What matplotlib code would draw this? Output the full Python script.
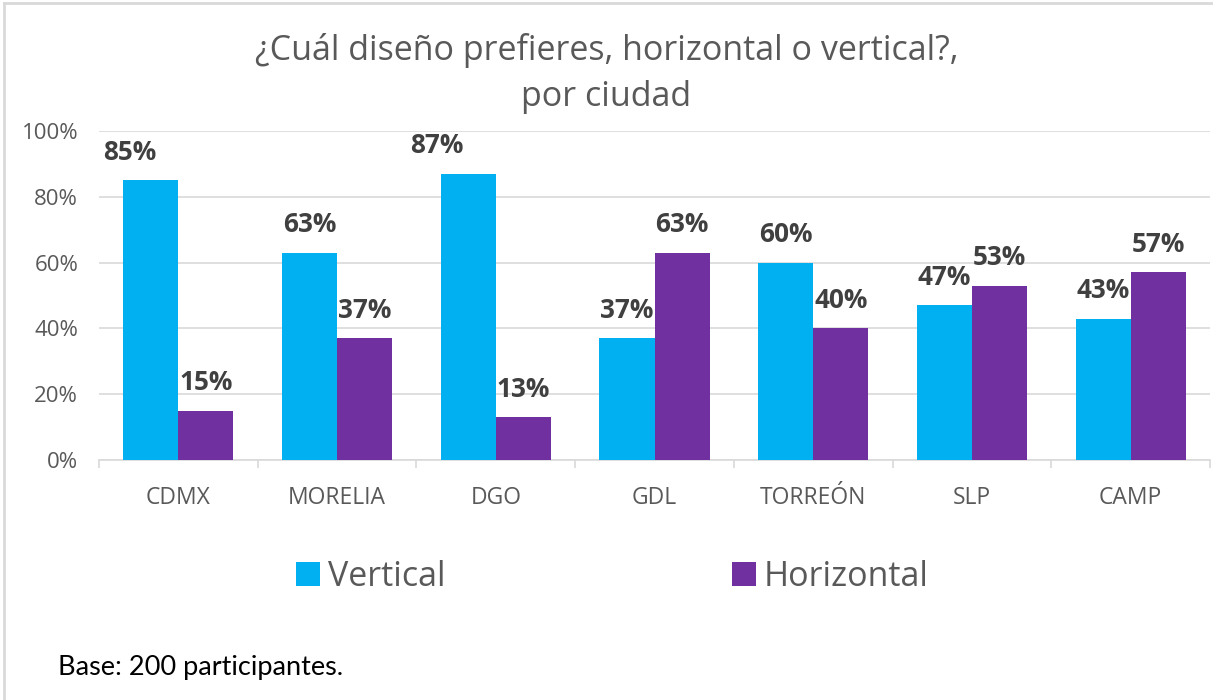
import numpy as np
import matplotlib
matplotlib.use("Agg")
import matplotlib.pyplot as plt
from matplotlib.lines import Line2D
from matplotlib.patches import Patch

plt.rcParams['font.family'] = ['Open Sans', 'DejaVu Sans']

ciudades = ['CDMX', 'MORELIA', 'DGO', 'GDL', 'TORREÓN', 'SLP', 'CAMP']
vertical = [85, 63, 87, 37, 60, 47, 43]
horizontal = [15, 37, 13, 63, 40, 53, 57]

c_vert = '#00B0F0'
c_hor = '#7030A0'
gris = '#595959'

# desplazamiento horizontal de algunas etiquetas (como en el original)
dx_vert = {0: -0.13, 2: -0.20}

fig = plt.figure(figsize=(12.13, 7.0), dpi=100)
ax = fig.add_axes([0.0816, 0.3429, 0.916, 0.47])

x = np.arange(len(ciudades))
w = 0.347
b1 = ax.bar(x - w/2, vertical, w, color=c_vert, zorder=3)
b2 = ax.bar(x + w/2, horizontal, w, color=c_hor, zorder=3)

for i, v in enumerate(vertical):
    ax.text(x[i] - w/2 + dx_vert.get(i, 0), v + 8.5, '%d%%' % v, ha='center', va='center',
            fontsize=18.8, fontweight='bold', color='#404040')
for i, v in enumerate(horizontal):
    ax.text(x[i] + w/2, v + 8.5, '%d%%' % v, ha='center', va='center',
            fontsize=18.8, fontweight='bold', color='#404040')

ax.set_xlim(-0.5, len(ciudades) - 0.5)
ax.set_ylim(0, 100)
ax.set_yticks(np.arange(0, 101, 20))
ax.set_yticklabels(['%d%%' % t for t in range(0, 101, 20)], fontsize=16, color=gris)
ax.yaxis.grid(True, color='#D9D9D9', linewidth=1.2, zorder=0)
ax.tick_params(axis='y', length=0, pad=15)

ax.set_xticks(x)
ax.set_xticklabels(ciudades, fontsize=16.5, color=gris)
ax.set_xticks(np.arange(-0.5, len(ciudades)), minor=True)
ax.tick_params(axis='x', which='major', length=0, pad=19)
ax.tick_params(axis='x', which='minor', length=6, color='#D9D9D9', width=1.2)

for s in ['top', 'right', 'left']:
    ax.spines[s].set_visible(False)
ax.spines['bottom'].set_color('#D9D9D9')
ax.spines['bottom'].set_linewidth(1.2)

fig.text(0.5, 0.928, '¿Cuál diseño prefieres, horizontal o vertical?,', ha='center', va='center',
         fontsize=24.5, color=gris)
fig.text(0.5, 0.862, 'por ciudad', ha='center', va='center',
         fontsize=24.5, color=gris)

handles = [Patch(facecolor=c_vert), Patch(facecolor=c_hor)]
fig.legend(handles, ['Vertical', 'Horizontal'], loc='center', bbox_to_anchor=(0.505, 0.176),
           ncol=2, frameon=False, fontsize=24.5, labelcolor=gris, handlelength=0.7,
           handleheight=0.7, handletextpad=0.25, columnspacing=8.4)

fig.text(0.048, 0.046, 'Base: 200 participantes.', ha='left', va='center',
         fontsize=19.5, color='black', family=['Lato', 'DejaVu Sans'])

fig.add_artist(Line2D([0.003, 0.003], [0, 0.996], color='#D9D9D9', lw=2, transform=fig.transFigure))
fig.add_artist(Line2D([0.003, 1], [0.996, 0.996], color='#D9D9D9', lw=2, transform=fig.transFigure))

fig.savefig('out.png', dpi=100)
